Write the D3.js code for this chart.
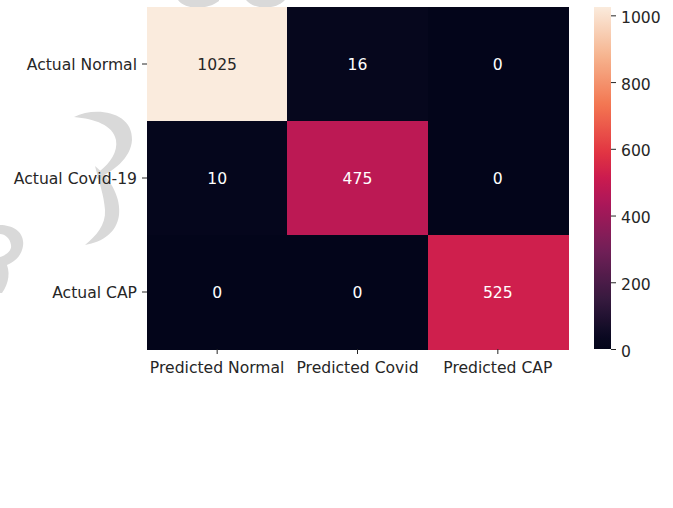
<!DOCTYPE html>
<html>
<head>
<meta charset="utf-8">
<script src="https://cdn.jsdelivr.net/npm/d3@7"></script>
<style>
  html, body { margin: 0; padding: 0; background: #ffffff; }
  svg { display: block; }
  text { font-family: "DejaVu Sans", sans-serif; }
</style>
</head>
<body>
<script>
// Confusion matrix: rows are actual classes, columns are predicted classes
const actualLabels = ["Actual Normal", "Actual Covid-19", "Actual CAP"];
const predictedLabels = ["Predicted Normal", "Predicted Covid", "Predicted CAP"];
const counts = [
  [1025, 16, 0],
  [10, 475, 0],
  [0, 0, 525]
];
const colorbarTicks = [0, 200, 400, 600, 800, 1000];

// "rocket" sequential palette anchors
const rocketStops = [
  [0.0, "#03051a"],
  [0.04, "#0b0922"],
  [1 / 7, "#35193e"],
  [2 / 7, "#701f57"],
  [3 / 7, "#ad1759"],
  [0.5, "#cb1b4f"],
  [4 / 7, "#e13342"],
  [5 / 7, "#f37651"],
  [6 / 7, "#f6b48f"],
  [1.0, "#faebdd"]
];

const W = 673, H = 508;
const plot = { left: 147, top: 7, right: 568, bottom: 349 };
const cbar = { left: 594, right: 611 };
const textColor = "#262626";
const fontSize = 15.6;

const svg = d3.select("body").append("svg")
  .attr("width", W).attr("height", H)
  .attr("viewBox", `0 0 ${W} ${H}`);

svg.append("rect").attr("width", W).attr("height", H).attr("fill", "#ffffff");

// Light grey watermark strokes sitting behind the figure
const watermark = svg.append("g").attr("fill", "#d9d9d9");
[
  "M178,0 C184,9 206,11 219,1 L219,0 Z",
  "M246,0 C254,10 276,10 285,0 Z",
  "M74,117 C96,106 133,112 132,140 C131,158 113,172 96,179 L100,171 C110,163 118,152 116,140 C113,125 95,119 74,117 Z",
  "M95,166 C112,180 121,199 119,215 C117,232 103,242 85,245 C96,236 106,225 105,210 C104,195 99,182 95,166 Z",
  "M0,225 C13,225 25,232 23,246 C21,259 10,265 0,267 L0,257 C7,255 12,250 11,245 C10,238 5,234 0,234 Z",
  "M5,261 C11,271 9,283 2,293 L0,293 L0,263 Z"
].forEach(d => watermark.append("path").attr("d", d));

// Scales
const x = d3.scaleBand().domain(predictedLabels).range([plot.left, plot.right]);
const y = d3.scaleBand().domain(actualLabels).range([plot.top, plot.bottom]);
const vmax = d3.max(counts.flat());
const vmin = d3.min(counts.flat());

const rocket = t => {
  t = Math.max(0, Math.min(1, t));
  for (let i = 1; i < rocketStops.length; i++) {
    const [t1, c1] = rocketStops[i];
    const [t0, c0] = rocketStops[i - 1];
    if (t <= t1) return d3.interpolateRgb(c0, c1)((t - t0) / (t1 - t0));
  }
  return rocketStops[rocketStops.length - 1][1];
};
const color = d3.scaleSequential(rocket).domain([vmin, vmax]);

// Heatmap cells
const cells = [];
counts.forEach((row, i) => row.forEach((v, j) => cells.push({ r: actualLabels[i], c: predictedLabels[j], v })));

const cellG = svg.append("g");
cellG.selectAll("rect").data(cells).join("rect")
  .attr("x", d => x(d.c))
  .attr("y", d => y(d.r))
  .attr("width", x.bandwidth() + 0.5)
  .attr("height", y.bandwidth() + 0.5)
  .attr("fill", d => color(d.v))
  .attr("shape-rendering", "crispEdges");

// Annotations: light text on dark cells, dark text on light cells
const lum = c => {
  const rgb = d3.rgb(c);
  const ch = [rgb.r, rgb.g, rgb.b].map(v => {
    v /= 255;
    return v <= 0.03928 ? v / 12.92 : Math.pow((v + 0.055) / 1.055, 2.4);
  });
  return 0.2126 * ch[0] + 0.7152 * ch[1] + 0.0722 * ch[2];
};
cellG.selectAll("text").data(cells).join("text")
  .attr("x", d => x(d.c) + x.bandwidth() / 2)
  .attr("y", d => y(d.r) + y.bandwidth() / 2)
  .attr("dy", "0.38em")
  .attr("text-anchor", "middle")
  .attr("font-size", fontSize)
  .attr("fill", d => lum(color(d.v)) > 0.408 ? textColor : "#ffffff")
  .text(d => d.v);

// Axes
function styleAxis(g) {
  g.select(".domain").remove();
  g.selectAll(".tick line").attr("stroke", textColor).attr("stroke-width", 1);
  g.selectAll(".tick text").attr("fill", textColor).attr("font-size", fontSize)
    .attr("font-family", "DejaVu Sans, sans-serif");
}

svg.append("g")
  .attr("transform", `translate(0,${plot.bottom})`)
  .call(d3.axisBottom(x).tickSize(5).tickPadding(8))
  .call(styleAxis);

svg.append("g")
  .attr("transform", `translate(${plot.left},0)`)
  .call(d3.axisLeft(y).tickSize(5).tickPadding(5))
  .call(styleAxis)
  .call(g => g.selectAll(".tick text").attr("dy", "0.4em"));

// Colorbar
const cy = d3.scaleLinear().domain([vmin, vmax]).range([plot.bottom, plot.top]);
const grad = svg.append("defs").append("linearGradient")
  .attr("id", "cbar-grad")
  .attr("x1", 0).attr("y1", 1).attr("x2", 0).attr("y2", 0);
d3.range(0, 1.0001, 1 / 64).forEach(t => {
  grad.append("stop").attr("offset", t).attr("stop-color", rocket(t));
});
svg.append("rect")
  .attr("x", cbar.left)
  .attr("y", plot.top)
  .attr("width", cbar.right - cbar.left)
  .attr("height", plot.bottom - plot.top)
  .attr("fill", "url(#cbar-grad)");

svg.append("g")
  .attr("transform", `translate(${cbar.right},0)`)
  .call(d3.axisRight(cy).tickValues(colorbarTicks).tickFormat(d3.format("d")).tickSize(5).tickPadding(5))
  .call(styleAxis)
  .call(g => g.selectAll(".tick text").attr("dy", "0.45em"));
</script>
</body>
</html>
